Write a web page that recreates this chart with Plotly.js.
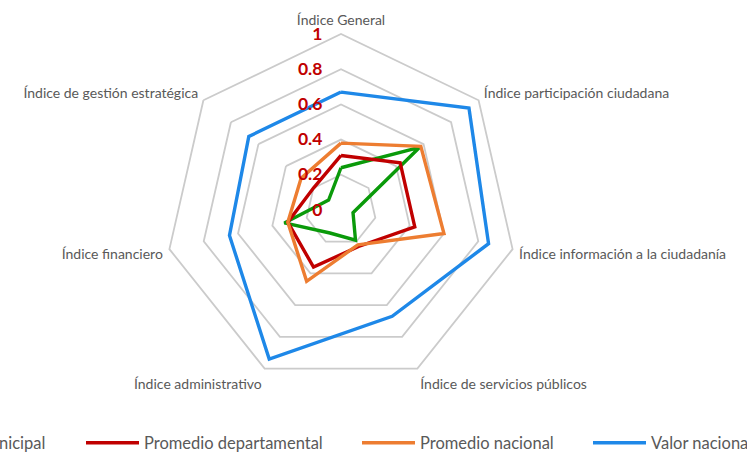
<!DOCTYPE html>
<html>
<head>
<meta charset="utf-8">
<script src="https://cdn.plot.ly/plotly-3.0.1.min.js"></script>
<style>
  html, body { margin: 0; padding: 0; background: #fff; }
  #radar { width: 747px; height: 460px; }
</style>
</head>
<body>
<div id="radar"></div>
<script>
const categories = [
    'Índice General',
    'Índice participación ciudadana',
    'Índice información a la ciudadanía',
    'Índice de servicios públicos',
    'Índice administrativo',
    'Índice financiero',
    'Índice de gestión estratégica'
];

const valorMunicipal = [0.24, 0.57, 0.07, 0.19, 0.145, 0.33, 0.09];
const promedioDepartamental = [0.31, 0.43, 0.43, 0.23, 0.36, 0.31, 0.20];
const promedioNacional = [0.38, 0.58, 0.60, 0.22, 0.45, 0.31, 0.29];
const valorNacional = [0.67, 0.93, 0.86, 0.67, 0.94, 0.65, 0.67];

const radialTicks = [0, 0.2, 0.4, 0.6, 0.8, 1];
const radialTickText = ['0', '0.2', '0.4', '0.6', '0.8', '1'];

const W = 747;

// close the polygon by repeating the first point
function closed(arr) {
    return arr.concat([arr[0]]);
}

function series(name, values, color, legendId) {
    return {
        type: 'scatterpolar',
        r: closed(values),
        theta: closed(categories),
        mode: 'lines',
        name: name,
        legend: legendId,
        line: { color: color, width: 3.4 },
        hoverinfo: 'name+r'
    };
}

const traces = [
    series('Valor municipal', valorMunicipal, '#0A9A0A', 'legend'),
    series('Promedio departamental', promedioDepartamental, '#C00000', 'legend2'),
    series('Promedio nacional', promedioNacional, '#ED7D31', 'legend3'),
    series('Valor nacional', valorNacional, '#1E88E8', 'legend4')
];

function legendAt(px) {
    return {
        orientation: 'h',
        x: px / W,
        xanchor: 'left',
        y: 17 / 460,
        yanchor: 'middle',
        bgcolor: 'rgba(0,0,0,0)',
        itemwidth: 53,
        font: { family: 'Lato, sans-serif', size: 16.5, color: '#595959' }
    };
}

const layout = {
    width: 747,
    height: 460,
    margin: { l: 0, r: 0, t: 0, b: 0, autoexpand: false },
    paper_bgcolor: '#ffffff',
    font: { family: 'Lato, sans-serif', color: '#595959' },
    showlegend: true,
    legend: legendAt(-128),
    legend2: legendAt(81),
    legend3: legendAt(357),
    legend4: legendAt(588),
    polar: {
        domain: { x: [165 / 747, 517 / 747], y: [74 / 460, 426 / 460] },
        gridshape: 'linear',
        bgcolor: 'rgba(0,0,0,0)',
        radialaxis: {
            range: [0, 1],
            angle: 90,
            side: 'counterclockwise',
            tickangle: 90,
            tickvals: radialTicks,
            ticktext: radialTickText,
            ticks: 'outside',
            ticklen: 12,
            tickcolor: 'rgba(0,0,0,0)',
            showline: false,
            gridcolor: '#CBCBCB',
            gridwidth: 1.8,
            tickfont: { family: 'Lato, sans-serif', size: 17.5, color: '#C00000', weight: 'bold' }
        },
        angularaxis: {
            direction: 'clockwise',
            rotation: 90,
            showgrid: false,
            showline: true,
            linecolor: '#CBCBCB',
            linewidth: 1.8,
            ticks: 'outside',
            ticklen: 3,
            tickcolor: 'rgba(0,0,0,0)',
            tickfont: { family: 'Lato, sans-serif', size: 14, color: '#595959' }
        }
    }
};

Plotly.newPlot('radar', traces, layout, { displayModeBar: false, staticPlot: true });
</script>
</body>
</html>
